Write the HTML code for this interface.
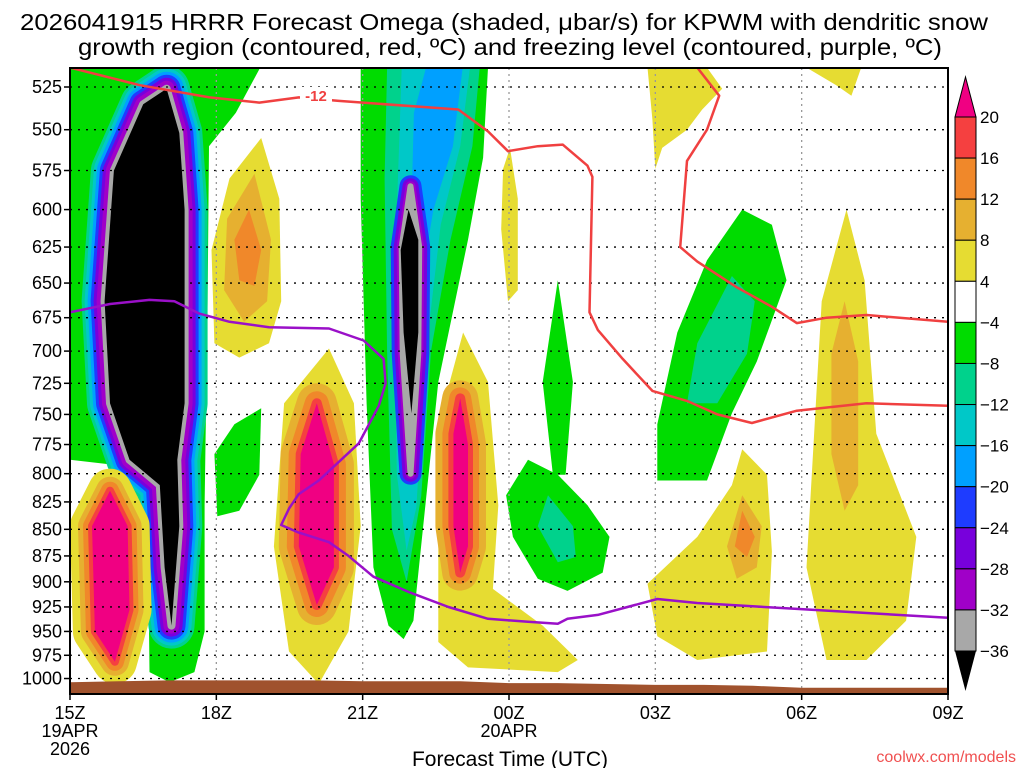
<!DOCTYPE html>
<html><head><meta charset="utf-8"><style>
html,body{margin:0;padding:0;background:#fff;}
svg{display:block;font-family:"Liberation Sans Narrow","Liberation Sans",sans-serif;}
</style></head><body>
<svg id="chart" width="1024" height="768" viewBox="0 0 1024 768" xmlns="http://www.w3.org/2000/svg">
<text x="504" y="30" font-size="23" text-anchor="middle" textLength="968" lengthAdjust="spacingAndGlyphs">2026041915 HRRR Forecast Omega (shaded, μbar/s) for KPWM with dendritic snow</text>
<text x="510" y="55" font-size="23" text-anchor="middle" textLength="864" lengthAdjust="spacingAndGlyphs">growth region (contoured, red, ºC) and freezing level (contoured, purple, ºC)</text>
<defs><clipPath id="plotclip"><rect x="70" y="68" width="878" height="626"/></clipPath></defs>
<g id="plot" clip-path="url(#plotclip)"></g>
<g id="overlay"></g>
<text x="510" y="766" font-size="21" text-anchor="middle">Forecast Time (UTC)</text>
<text x="1016" y="762" font-size="16" fill="#f05050" text-anchor="end">coolwx.com/models</text>
</svg>
<script>
// ---- data ----
const pressureTicks=[525,550,575,600,625,650,675,700,725,750,775,800,825,850,875,900,925,950,975,1000];
const timeTicks=[0,3,6,9,12,15,18];
const timeLabels=["15Z","18Z","21Z","00Z","03Z","06Z","09Z"];
const cbLevels=["20","16","12","8","4","-4","-8","-12","-16","-20","-24","-28","-32","-36"];
const cbColors=["#f54040","#f0882a","#e6b030","#e6dc32","#ffffff","#00dc00","#00d28c","#00c8c8","#00a0ff","#1e3cff","#7800dc","#a000c8","#a8a8a8"];
const C={pink:"#f00082",red:"#f54040",orange:"#f0882a",gold:"#e6b030",yellow:"#e6dc32",green:"#00dc00",teal:"#00d28c",cyan:"#00c8c8",lblue:"#00a0ff",blue:"#1e3cff",purple:"#7800dc",violet:"#a000c8",gray:"#a8a8a8",black:"#000000"};
const surfaceHours=[0,1,2,3,4,5,6,7,8,9,10,11,12,13,14,15,16,17,18];
const surfacePres=[1004,1003,1002,1002,1002,1002,1003,1003,1003,1005,1005,1006,1007,1007,1008,1010,1010,1010,1010];
const redLine1=[[0,514],[1.43,524],[2.86,531],[3.88,534],[4.69,531],[5.51,533],[7.96,538],[8.57,551],[8.98,563],[9.59,560],[10.1,559],[10.61,572],[10.71,579],[10.65,671],[10.82,684],[11.33,706],[11.94,731],[12.65,739],[13.27,750],[13.98,757],[14.9,747],[16.33,741],[18,743]];
const redLine2=[[12.86,514],[13.31,530],[13.06,550],[12.65,569],[12.51,625],[12.86,635],[13.67,653],[14.39,667],[14.9,679],[15.51,675],[16.33,673],[18,678]];
const freezeLine=[[0,671],[0.82,665],[1.63,662],[2.14,663],[2.65,672],[3.27,678],[4.08,682],[5.31,683],[6.02,692],[6.43,706],[6.47,725],[6.33,743],[5.92,774],[5.1,806],[4.69,818],[4.49,831],[4.33,846],[4.69,853],[5.31,862],[5.71,875],[6.22,895],[6.94,910],[7.76,925],[8.57,937],[9.39,940],[10,942],[10.2,937],[10.82,933],[11.43,925],[12.04,917],[12.86,921],[14.9,927],[18,936]];
const greenA=[[0.1,514],[2.9,514],[3.9,514],[3.4,540],[2.85,560],[2.82,663],[2.76,828],[2.76,950],[2.55,993],[2.04,1004],[1.63,993],[1.59,828],[1.53,801],[0.82,792],[0,788],[0,514]];
const coreA=[[1.98,526],[2.24,552],[2.35,600],[2.35,741],[2.2,788],[2.24,847],[2.08,944],[1.94,886],[1.84,810],[1.22,788],[0.82,741],[0.71,663],[0.9,575],[1.5,535]];
const pinkA2=[[0.82,815],[1.18,847],[1.22,928],[0.92,982],[0.51,950],[0.45,847]];
const yellowB=[[3.92,555],[4.29,593],[4.33,663],[4.08,694],[3.47,705],[2.96,694],[2.9,627],[3.27,580]];
const goldB=[[3.78,577],[4.12,620],[4.04,663],[3.57,678],[3.16,655],[3.22,606]];
const orangeB=[[3.67,600],[3.92,627],[3.78,652],[3.47,648],[3.37,620]];
const greenSmall=[[3.92,745],[3.88,801],[3.47,833],[3.02,838],[2.96,783],[3.37,758]];
const yellowC=[[5.31,698],[5.82,741],[5.96,847],[5.71,950],[5.1,1006],[4.49,971],[4.18,866],[4.39,741]];
const pinkC=[[5.06,741],[5.41,792],[5.41,886],[5.06,923],[4.69,866],[4.73,783]];
const greenD=[[5.96,514],[8.57,514],[8.47,567],[8.16,620],[7.55,724],[7.24,847],[7.04,939],[6.84,958],[6.53,944],[6.22,886],[6.08,741],[5.96,593]];
const tealD=[[6.5,514],[8.4,514],[8.25,560],[7.8,620],[7.4,700],[7.2,820],[6.9,900],[6.6,850],[6.5,700],[6.45,580]];
const cyanD=[[6.8,514],[8.2,514],[8.0,560],[7.6,610],[7.3,700],[7.1,830],[6.9,870],[6.7,800],[6.65,650]];
const lblueD=[[7.3,514],[8.05,514],[7.85,560],[7.45,600],[7.2,650],[7.0,600],[7.05,540]];
const coreDstroke=[[6.98,585],[7.16,625],[7.14,702],[6.98,800],[6.82,702],[6.8,625]];
const coreD=[[6.94,600],[7.14,620],[7.14,686],[7.0,749],[6.84,686],[6.78,627]];
const yellowE=[[8.06,686],[8.57,724],[8.78,828],[8.67,907],[9.69,944],[10.41,980],[10,993],[8.16,988],[7.55,961],[7.55,758]];
const pinkE=[[8.0,737],[8.16,775],[8.16,866],[8.0,891],[7.86,847],[7.86,766]];
const yellowF=[[9.02,561],[9.18,593],[9.18,655],[8.98,663],[8.84,613],[8.88,574]];
const greenG=[[10,648],[10.31,724],[10.16,801],[9.9,801],[9.69,724]];
const greenH=[[9.39,788],[10,801],[10.61,828],[11.06,857],[10.92,891],[10.2,909],[9.59,897],[9.08,857],[8.94,819]];
const tealH=[[9.8,819],[10.31,847],[10.37,876],[10,881],[9.59,847]];
const yellowI=[[11.84,514],[13.06,514],[13.37,526],[12.96,538],[12.65,550],[12.14,561],[12,574],[11.94,544]];
const yellowI2=[[15.1,514],[16.22,514],[16.02,530],[15.71,524]];
const greenJ=[[13.78,600],[14.39,610],[14.69,648],[14.08,708],[13.57,749],[13.06,806],[12.04,806],[12.04,758],[12.45,686],[13.06,634]];
const tealJ=[[13.57,645],[14.04,663],[13.88,702],[13.27,741],[12.65,741],[12.86,694]];
const yellowK=[[15.92,600],[16.29,648],[16.53,766],[17.35,857],[17.14,939],[16.33,980],[15.51,980],[15.1,886],[15.41,663]];
const goldK=[[15.88,663],[16.16,708],[16.16,810],[15.88,833],[15.61,783],[15.61,702]];
const yellowL=[[13.78,779],[14.29,801],[14.39,871],[14.29,971],[12.86,980],[12.04,955],[11.84,902],[12.86,857],[13.57,810]];
const goldL=[[13.78,819],[14.18,847],[14.08,886],[13.67,897],[13.47,866]];
const orangeL=[[13.78,833],[14.04,857],[13.88,876],[13.63,866]];

// ---- axes ----
const X0=70,X1=948,Y0=68,Y1=694,H0=0,H1=18;
const lnTop=Math.log(525)-19/918;
function xOf(h){return X0+(h-H0)/(H1-H0)*(X1-X0);}
function yOf(p){return Y0+(Math.log(p)-lnTop)*918;}
const NS="http://www.w3.org/2000/svg";
const plot=document.getElementById('plot'),ov=document.getElementById('overlay');
function mk(tag,attrs,parent){const e=document.createElementNS(NS,tag);for(const k in attrs)e.setAttribute(k,attrs[k]);parent.appendChild(e);return e;}
function pts(arr){return arr.map(d=>xOf(d[0]).toFixed(1)+","+yOf(d[1]).toFixed(1)).join(" ");}
function poly(arr,color,name){const e=mk('polygon',{points:pts(arr),fill:color},plot);

return e;}
function layered(arr,layers,name){
layers.forEach(l=>{const e=mk('polygon',{points:pts(arr),fill:l[0],stroke:l[0],'stroke-width':2*l[1],'stroke-linejoin':'round'},plot);

});}

// shading
poly(greenA,C.green,'omega-green-column-a');
layered(coreA,[[C.teal,23],[C.cyan,20],[C.lblue,17],[C.blue,14],[C.purple,11],[C.violet,8],[C.gray,4]],'omega-column-a');
poly(coreA,C.black,'omega-black-core-a');
layered(pinkA2,[[C.yellow,22],[C.gold,14],[C.orange,9],[C.red,4]],'omega-positive-a');
poly(pinkA2,C.pink,'omega-pink-core-a');
poly(yellowB,C.yellow,'omega-yellow-b');poly(goldB,C.gold,'omega-gold-b');poly(orangeB,C.orange,'omega-orange-b');
poly(greenSmall,C.green,'omega-green-small');
poly(yellowC,C.yellow,'omega-yellow-c');
layered(pinkC,[[C.gold,20],[C.orange,12],[C.red,5]],'omega-positive-c');
poly(pinkC,C.pink,'omega-pink-core-c');
poly(yellowE,C.yellow,'omega-yellow-e');
layered(pinkE,[[C.gold,18],[C.orange,11],[C.red,5]],'omega-positive-e');
poly(pinkE,C.pink,'omega-pink-core-e');
poly(greenD,C.green,'omega-green-column-d');
poly(tealD,C.teal,'omega-teal-d');poly(cyanD,C.cyan,'omega-cyan-d');poly(lblueD,C.lblue,'omega-lightblue-d');
layered(coreDstroke,[[C.blue,11],[C.purple,8],[C.violet,5],[C.gray,3]],'omega-column-d');
poly(coreD,C.black,'omega-black-core-d');
poly(yellowF,C.yellow,'omega-yellow-f');
poly(greenG,C.green,'omega-green-g');
poly(greenH,C.green,'omega-green-h');poly(tealH,C.teal,'omega-teal-h');
poly(yellowI,C.yellow,'omega-yellow-i');poly(yellowI2,C.yellow,'omega-yellow-i2');
poly(greenJ,C.green,'omega-green-j');poly(tealJ,C.teal,'omega-teal-j');
poly(yellowK,C.yellow,'omega-yellow-k');poly(goldK,C.gold,'omega-gold-k');
poly(yellowL,C.yellow,'omega-yellow-l');poly(goldL,C.gold,'omega-gold-l');poly(orangeL,C.orange,'omega-orange-l');

// gridlines
pressureTicks.forEach(p=>{const e=mk('line',{x1:X0,x2:X1,y1:yOf(p),y2:yOf(p),stroke:'#000','stroke-width':1.3,'stroke-dasharray':'2 6'},plot);

});
timeTicks.slice(1,-1).forEach(h=>{const e=mk('line',{x1:xOf(h),x2:xOf(h),y1:Y0,y2:Y1,stroke:'#999','stroke-width':1.3,'stroke-dasharray':'2 4'},plot);

});

// surface terrain
const terr=[[H0,1100]].concat(surfaceHours.map((h,i)=>[h,surfacePres[i]])).concat([[H1,1100]]);
const tp=mk('polygon',{points:pts(terr),fill:'#a0522d'},plot);



// contour lines
function line(arr,color,name){const e=mk('polyline',{points:pts(arr),fill:'none',stroke:color,'stroke-width':2.5,'stroke-linejoin':'round'},plot);

}
line(redLine1,'#f04040','dgz-contour-upper');
line(redLine2,'#f04040','dgz-contour-lower');
line(freezeLine,'#9a10c8','freezing-level-line');
const lb=mk('rect',{x:300,y:87,width:32,height:16,fill:'#fff'},plot);


const lt=mk('text',{x:316,y:101,'font-size':15,'font-weight':'bold',fill:'#f04040','text-anchor':'middle'},plot);lt.textContent='-12';



// frame
const fr=mk('rect',{x:X0,y:Y0,width:X1-X0,height:Y1-Y0,fill:'none',stroke:'#000','stroke-width':2},ov);


pressureTicks.forEach(p=>{const y=yOf(p);
const t=mk('line',{x1:X0-6,x2:X0,y1:y,y2:y,stroke:'#000','stroke-width':1.5},ov);


const l=mk('text',{x:X0-8,y:y+6,'font-size':18,'text-anchor':'end'},ov);l.textContent=p;

});
timeTicks.forEach((h,i)=>{const x=xOf(h);
const t=mk('line',{x1:x,x2:x,y1:Y1,y2:Y1+6,stroke:'#000','stroke-width':1.5},ov);


const l=mk('text',{x:x,y:719,'font-size':18,'text-anchor':'middle'},ov);l.textContent=timeLabels[i];

});
[[0,737,"19APR"],[0,755,"2026"],[9,737,"20APR"]].forEach(d=>{const l=mk('text',{x:xOf(d[0]),y:d[1],'font-size':18,'text-anchor':'middle'},ov);l.textContent=d[2];

});

// colorbar
const cbX=955,cbW=21,cbTop=117,cbStep=(651-117)/13;
cbColors.forEach((c,i)=>{const r=mk('rect',{x:cbX,y:cbTop+i*cbStep,width:cbW,height:cbStep,fill:c,stroke:'#000','stroke-width':1},ov);

});
const t1=mk('polygon',{points:`${cbX},${cbTop} ${cbX+cbW},${cbTop} ${cbX+cbW/2},${cbTop-40}`,fill:C.pink,stroke:'#000','stroke-width':1},ov);


const t2=mk('polygon',{points:`${cbX},651 ${cbX+cbW},651 ${cbX+cbW/2},691`,fill:'#000'},ov);


cbLevels.forEach((s,i)=>{const l=mk('text',{x:980,y:cbTop+i*cbStep+6,'font-size':17},ov);l.textContent=s.replace('-','−');

});
</script>
</body></html>
